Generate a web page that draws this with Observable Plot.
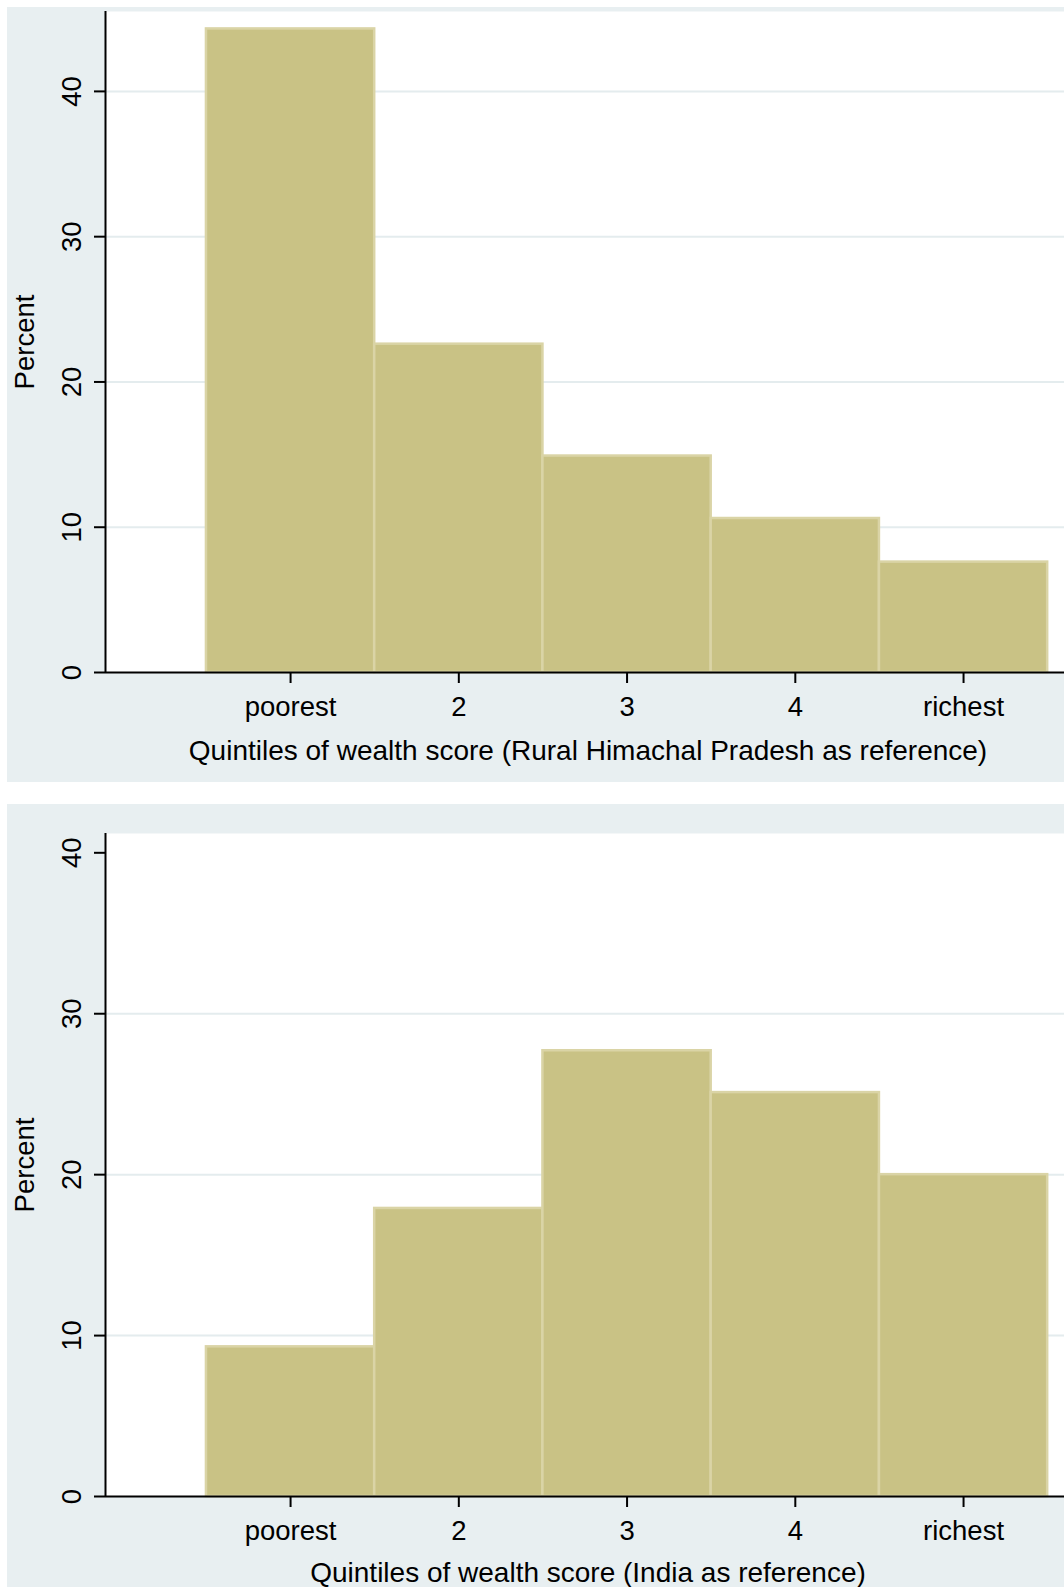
<!DOCTYPE html>
<html>
<head>
<meta charset="utf-8">
<script src="https://cdn.jsdelivr.net/npm/d3@7"></script>
<script src="https://cdn.jsdelivr.net/npm/@observablehq/plot@0.6"></script>
<style>
  html, body { margin: 0; padding: 0; background: #ffffff; }
  #chart { padding: 7px 0 0 7px; }
  #chart svg { display: block; }
  #chart svg + svg { margin-top: 22px; }
</style>
</head>
<body>
<div id="chart"></div>
<script>
// Wealth quintiles (1 = poorest, 5 = richest)
const quintiles = [1, 2, 3, 4, 5];
const quintileLabels = ["poorest", "2", "3", "4", "richest"];

// Percent of households in each quintile
const pctHimachal = [44.3, 22.6, 14.9, 10.6, 7.6];
const pctIndia = [9.3, 17.9, 27.7, 25.1, 20.0];

// Axis ticks and grid lines
const yTicks = [0, 10, 20, 30, 40];
const gridHimachal = [10, 20, 30, 40];
const gridIndia = [10, 20, 30];

const titleHimachal = "Quintiles of wealth score (Rural Himachal Pradesh as reference)";
const titleIndia = "Quintiles of wealth score (India as reference)";
const yLabel = "Percent";

const xDomain = [-0.1, 5.6];

const FONT = "'Liberation Sans', Arial, Helvetica, sans-serif";
const PANEL_BG = "#E8EFF1";
const GRID = "#E4ECEE";
const BAR_FILL = "#C9C285";
const BAR_EDGE = "#DAD4A6";

function panel({values, grid, yMax, height, marginTop, marginBottom, title, titleDy}) {
  const rows = quintiles.map((q, i) => ({q, v: values[i]}));
  return Plot.plot({
    width: 1057,
    height,
    marginLeft: 98,
    marginRight: 0,
    marginTop,
    marginBottom,
    style: {background: PANEL_BG, fontFamily: FONT, color: "#000", overflow: "visible"},
    x: {domain: xDomain, axis: null},
    y: {domain: [0, yMax], axis: null},
    marks: [
      Plot.frame({fill: "#ffffff", stroke: null}),
      Plot.ruleY(grid, {stroke: GRID, strokeWidth: 2}),
      Plot.rectY(rows, {
        x1: d => d.q - 0.5,
        x2: d => d.q + 0.5,
        y: "v",
        fill: BAR_FILL,
        stroke: BAR_EDGE,
        strokeWidth: 2.5
      }),
      Plot.ruleY([0], {stroke: "#000", strokeWidth: 2}),
      Plot.ruleX([xDomain[0]], {stroke: "#000", strokeWidth: 2}),
      Plot.axisY(yTicks, {
        tickSize: 11,
        tickPadding: 14,
        tickRotate: -90,
        fontSize: 27.5,
        strokeWidth: 2,
        label: null
      }),
      Plot.axisX(quintiles, {
        tickSize: 11,
        tickPadding: 13,
        tickFormat: d => quintileLabels[quintiles.indexOf(d)],
        fontSize: 27.5,
        strokeWidth: 2,
        label: null
      }),
      Plot.text([yLabel], {
        text: d => d,
        frameAnchor: "left",
        rotate: -90,
        dx: -72,
        textAnchor: "middle",
        lineAnchor: "bottom",
        fontSize: 27.5
      }),
      Plot.text([title], {
        text: d => d,
        frameAnchor: "bottom",
        dx: 3,
        dy: titleDy,
        lineAnchor: "bottom",
        fontSize: 28
      })
    ]
  });
}

const chart = document.getElementById("chart");
chart.append(panel({
  values: pctHimachal,
  grid: gridHimachal,
  yMax: 45.5,
  height: 775,
  marginTop: 4,
  marginBottom: 110,
  title: titleHimachal,
  titleDy: 87
}));
chart.append(panel({
  values: pctIndia,
  grid: gridIndia,
  yMax: 41.2,
  height: 783,
  marginTop: 29,
  marginBottom: 91,
  title: titleIndia,
  titleDy: 85
}));
</script>
</body>
</html>
